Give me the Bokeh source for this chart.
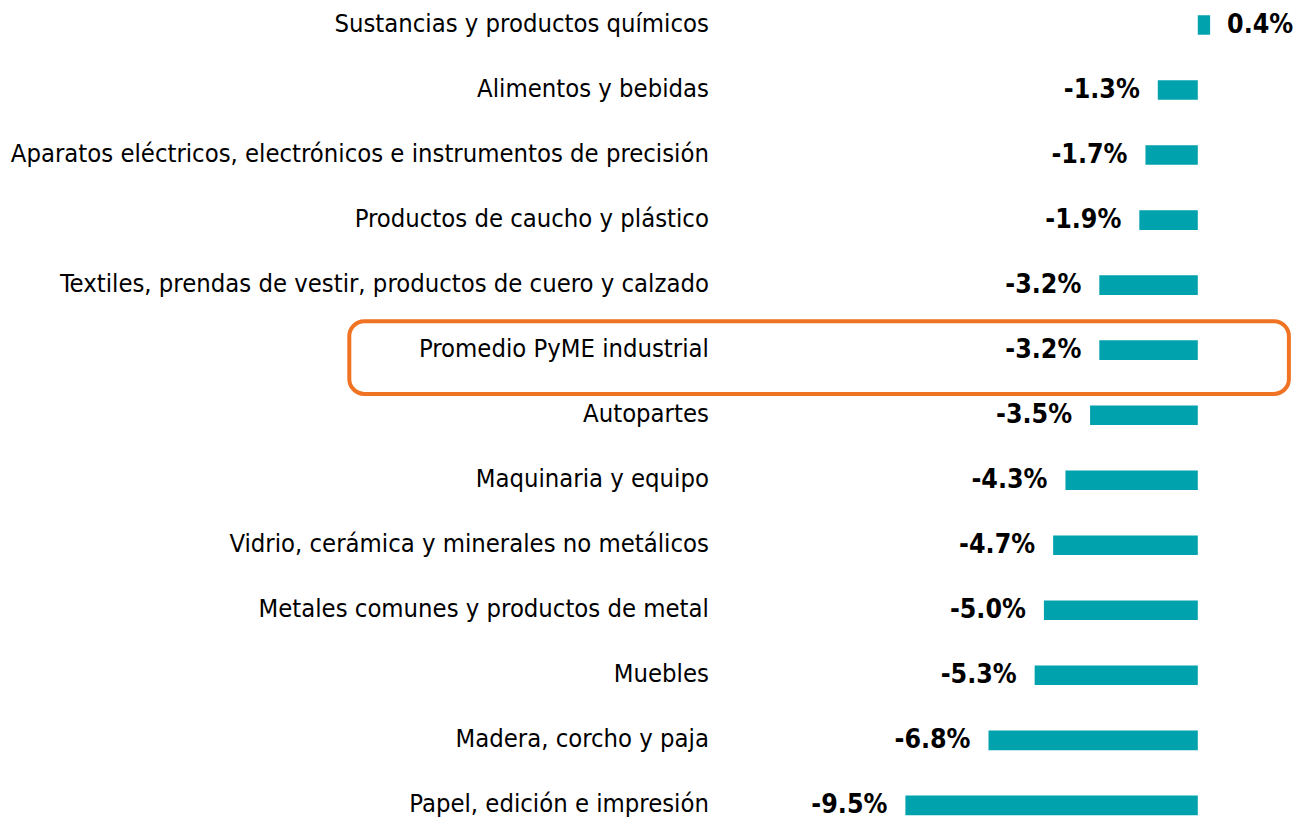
from bokeh.plotting import figure
from bokeh.models import ColumnDataSource, Range1d, BoxAnnotation
from bokeh.core.properties import value
from bokeh.embed import file_html
from bokeh.resources import INLINE

categories = [
    "Sustancias y productos químicos",
    "Alimentos y bebidas",
    "Aparatos eléctricos, electrónicos e instrumentos de precisión",
    "Productos de caucho y plástico",
    "Textiles, prendas de vestir, productos de cuero y calzado",
    "Promedio PyME industrial",
    "Autopartes",
    "Maquinaria y equipo",
    "Vidrio, cerámica y minerales no metálicos",
    "Metales comunes y productos de metal",
    "Muebles",
    "Madera, corcho y paja",
    "Papel, edición e impresión",
]
values = [0.4, -1.3, -1.7, -1.9, -3.2, -3.2, -3.5, -4.3, -4.7, -5.0, -5.3, -6.8, -9.5]
highlight = "Promedio PyME industrial"

BAR = "#00A2AE"
ORANGE = "#F07323"
FONT = "DejaVu Sans Condensed"

W, H = 1295, 820
PX_PER_UNIT = 30.78
ZERO_PX = 1197.3
ROW_PX = 65.03
TOP_PX = 24.5

pos = list(range(len(categories)))
labels = [("%.1f%%" % v) for v in values]
src = ColumnDataSource(dict(
    y=pos, v=values, zero=[0] * len(values), cat=categories,
    lab=labels,
    align=["left" if v >= 0 else "right" for v in values],
    off=[17 if v >= 0 else -18 for v in values],
))

x0 = -ZERO_PX / PX_PER_UNIT
x1 = (W - ZERO_PX) / PX_PER_UNIT
ytop = -TOP_PX / ROW_PX
ybot = ytop + H / ROW_PX

p = figure(width=W, height=H, output_backend="svg", toolbar_location=None,
           x_range=Range1d(x0, x1), y_range=Range1d(ybot, ytop),
           min_border=0, outline_line_color=None)
p.axis.visible = False
p.grid.visible = False
p.background_fill_color = "white"
p.border_fill_color = "white"

p.hbar(y="y", left="zero", right="v", height=19.6 / ROW_PX, source=src,
       fill_color=BAR, line_color=None)

p.text(x="v", y="y", text="lab", source=src, text_align="align", x_offset="off",
       text_baseline="middle", y_offset=-2, text_font=value(FONT),
       text_font_style="bold", text_font_size="26.5px", text_color="black")

label_x = (708.4 - ZERO_PX) / PX_PER_UNIT
p.text(x=label_x, y="y", text="cat", source=src, text_align="right",
       text_baseline="middle", y_offset=-2, text_font=value(FONT),
       text_font_size="25.4px", text_color="black")

hi = categories.index(highlight)
box = BoxAnnotation(left=(348.8 - ZERO_PX) / PX_PER_UNIT, right=(1288.4 - ZERO_PX) / PX_PER_UNIT,
                    top=hi - 0.444, bottom=hi + 0.673,
                    fill_alpha=0, line_color=ORANGE, line_alpha=1.0, line_width=4,
                    border_radius=15)
p.add_layout(box)

open("out.html", "w").write(file_html(p, INLINE))
